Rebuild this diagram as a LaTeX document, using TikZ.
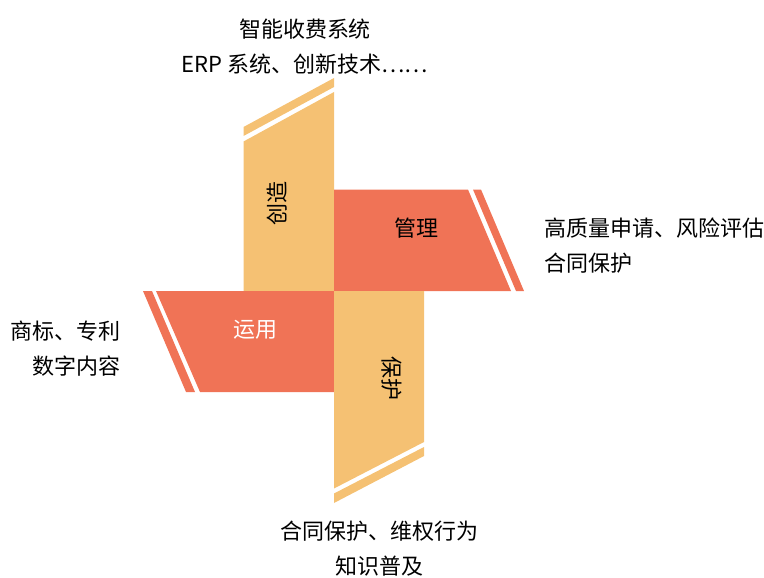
\documentclass[tikz,border=0pt]{standalone}
\usepackage{fontspec}
\setmainfont{Noto Sans CJK SC}
\usepackage{tikz}
\definecolor{gold}{HTML}{F5C173}
\definecolor{coral}{HTML}{F07356}
\tikzset{note/.style={inner sep=0pt,font=\fontsize{22}{35}\selectfont}}

\begin{document}
\begin{tikzpicture}[x=1pt,y=-1pt,font=\fontsize{22}{26}\selectfont]
  \useasboundingbox (0,0) rectangle (764,578);
  % the four arms and their strips
  \fill[gold] (243.5,291) -- (334,291) -- (334,92) -- (243.5,141.5) -- cycle;
  \fill[gold] (243.5,136) -- (334,87) -- (334,78) -- (243.5,127) -- cycle;
  \fill[coral] (334,189.5) -- (468,189.5) -- (511,291) -- (334,291) -- cycle;
  \fill[coral] (473,189.5) -- (481,189.5) -- (524,291) -- (516,291) -- cycle;
  \fill[coral] (334,291) -- (156,291) -- (200,392) -- (334,392) -- cycle;
  \fill[coral] (152,291) -- (143,291) -- (186,392) -- (195,392) -- cycle;
  \fill[gold] (334,291) -- (424,291) -- (424,442) -- (334,488.5) -- cycle;
  \fill[gold] (424,447) -- (424,456) -- (334,503) -- (334,493.5) -- cycle;
  \node (chuang) at (277,203) [rotate=90] {创造};
  \node (guan) at (416,228) {管理};
  \node[white] (yun) at (255,330) {运用};
  \node (bao) at (392,378) [rotate=-90] {保护};
  \node[note,align=center] (topnote) at (305,46.5) {智能收费系统\\ERP 系统、创新技术……};
  \node[note,align=left,anchor=west] (rightnote) at (544,245.5) {高质量申请、风险评估\\合同保护};
  \node[note,align=right,anchor=east] (leftnote) at (121,348.5) {商标、专利\\数字内容};
  \node[note,align=center] (bottomnote) at (379,548.5) {合同保护、维权行为\\知识普及};
\end{tikzpicture}
\end{document}
